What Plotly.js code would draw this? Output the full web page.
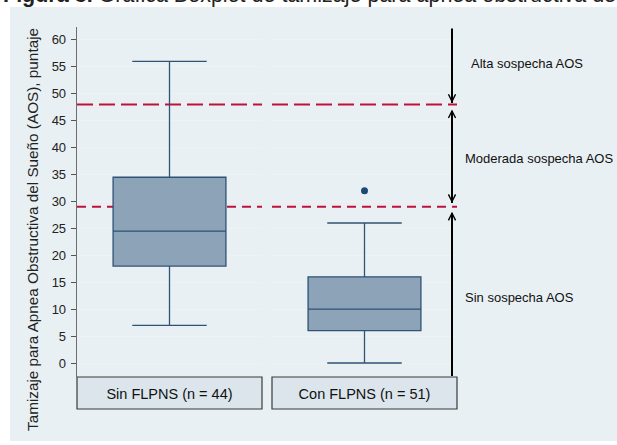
<!DOCTYPE html>
<html>
<head>
<meta charset="utf-8">
<script src="https://cdn.plot.ly/plotly-3.0.1.min.js"></script>
<style>html,body{margin:0;padding:0;background:#ffffff;}#chart{width:617px;height:445px;}</style>
</head>
<body>
<div id="chart"></div>
<script>
// Data
const groups = ["Sin FLPNS (n = 44)", "Con FLPNS (n = 51)"];
const q1 = [18, 6];
const medians = [24.5, 10];
const q3 = [34.5, 16];
const lowerWhisker = [7, 0];
const upperWhisker = [56, 26];
const outlierGroup = ["Con FLPNS (n = 51)"];
const outlierValues = [32];
const cutoffs = [48, 29];
const zoneLabels = ["Alta sospecha AOS", "Moderada sospecha AOS", "Sin sospecha AOS"];
const yTicks = [0, 5, 10, 15, 20, 25, 30, 35, 40, 45, 50, 55, 60];
const yRange = [-2.6, 62.4];

const boxFill = "#8ca3b8";
const boxLine = "#2f5275";
const FONT = "Arial, Liberation Sans, sans-serif";

// pixel -> paper helpers (plot area: x 77..457, y 27..377)
const px = p => (p - 77) / 380;
const py = p => (377 - p) / 350;

const traces = groups.map((g, i) => ({
  type: "box",
  x: [g],
  q1: [q1[i]], median: [medians[i]], q3: [q3[i]],
  lowerfence: [lowerWhisker[i]], upperfence: [upperWhisker[i]],
  xaxis: i === 0 ? "x" : "x2",
  yaxis: "y",
  fillcolor: boxFill,
  line: {color: boxLine, width: 1.3},
  width: 0.61,
  whiskerwidth: 0.66,
  boxpoints: false,
  hoverinfo: "skip",
  showlegend: false
}));
traces.push({
  type: "scatter", mode: "markers",
  x: outlierGroup, y: outlierValues,
  xaxis: "x2", yaxis: "y",
  marker: {color: "#1d4a73", size: 7},
  showlegend: false, hoverinfo: "skip"
});

const shapes = [];
// light blue-grey graph region
shapes.push({type: "rect", xref: "paper", yref: "paper", x0: px(10), x1: px(640), y0: py(441), y1: py(7),
  fillcolor: "#e9f0f3", line: {width: 0}, layer: "below"});
// cutoff lines in each panel
const dashes = ["16px,6px", "9px,6px"];
["x domain", "x2 domain"].forEach(xr => {
  cutoffs.forEach((c, j) => {
    shapes.push({type: "line", xref: xr, yref: "y", x0: 0, x1: 1, y0: c, y1: c, layer: "below",
      line: {color: "#c0113c", width: 2, dash: dashes[j]}});
  });
});
// label boxes under panels
const doms = [[0, 185/380], [195/380, 1]];
doms.forEach(d => {
  shapes.push({type: "rect", xref: "paper", yref: "paper", x0: d[0], x1: d[1], y0: 0, y1: py(409),
    fillcolor: "#dbe5eb", line: {color: "#3a3a3a", width: 1.2}, layer: "below"});
});

const arrowX = px(452);
const annotations = [];
// arrow shafts
const shafts = [
  [yRange[1], cutoffs[0] + 0.3],
  [cutoffs[0] - 0.9, cutoffs[1] + 0.7],
  [cutoffs[1] - 0.9, yRange[0] + 0.2]
];
shafts.forEach(s => {
  annotations.push({xref: "paper", yref: "y", x: arrowX, y: s[1], ax: 0, ay: s[0], axref: "pixel", ayref: "y",
    text: "", showarrow: true, arrowhead: 0, arrowwidth: 2, arrowcolor: "#000", standoff: 0, startstandoff: 0});
});
// arrow heads (thin open chevrons)
const heads = [
  {y: cutoffs[0] + 0.3, dir: -1},
  {y: cutoffs[0] - 0.9, dir: 1},
  {y: cutoffs[1] + 0.7, dir: -1},
  {y: cutoffs[1] - 0.9, dir: 1}
];
heads.forEach(h => {
  annotations.push({xref: "paper", yref: "y", x: arrowX, y: h.y, ax: 0, ay: h.dir * 8, axref: "pixel", ayref: "pixel",
    text: "", showarrow: true, arrowhead: 5, arrowsize: 1.4, arrowwidth: 1, arrowcolor: "#000", standoff: 0});
});
const labelX = [469, 463, 463];
const labelY = [55.7, 37.9, 12.2];
zoneLabels.forEach((t, i) => {
  annotations.push({xref: "paper", yref: "y", x: px(labelX[i]), y: labelY[i], xanchor: "left", yanchor: "middle",
    text: t, showarrow: false, font: {family: FONT, size: 13, color: "#111"}});
});
// y title
annotations.push({xref: "paper", yref: "paper", x: px(32), y: py(230), xanchor: "center", yanchor: "middle",
  textangle: -90, showarrow: false,
  text: "Tamizaje para Apnea Obstructiva del Sueño (AOS), puntaje",
  font: {family: FONT, size: 15.3, color: "#222"}});
// figure title (cut off at top)
annotations.push({xref: "paper", yref: "paper", x: px(1), y: py(-5), xanchor: "left", yanchor: "middle",
  showarrow: false,
  text: "<b>Figura 3.</b> Gráfica Boxplot de tamizaje para apnea obstructiva del sueño",
  font: {family: FONT, size: 21.5, color: "#222"}});

const xaxisBase = {type: "category", range: [-0.5, 0.5], showgrid: false, zeroline: false,
  showline: false, ticks: "", ticklabelstandoff: 6,
  tickfont: {family: FONT, size: 14.5, color: "#111"}, fixedrange: true};

const layout = {
  width: 617, height: 445,
  margin: {l: 77, r: 160, t: 27, b: 68, pad: 0},
  paper_bgcolor: "#ffffff",
  plot_bgcolor: "#ffffff",
  showlegend: false,
  xaxis: Object.assign({domain: doms[0], anchor: "y"}, xaxisBase),
  xaxis2: Object.assign({domain: doms[1], anchor: "y"}, xaxisBase),
  yaxis: {range: yRange, tickvals: yTicks, ticktext: yTicks.map(String), ticks: "outside", ticklen: 5, tickwidth: 1,
    tickcolor: "#555", showline: true, linecolor: "#6e6e6e", linewidth: 1.3, showgrid: true, gridcolor: "#edf2f4",
    gridwidth: 1, zeroline: false, ticklabelstandoff: 2,
    tickfont: {family: FONT, size: 13, color: "#222"}, fixedrange: true},
  shapes: shapes,
  annotations: annotations
};

Plotly.newPlot("chart", traces, layout, {displayModeBar: false, staticPlot: true});
</script>
</body>
</html>
